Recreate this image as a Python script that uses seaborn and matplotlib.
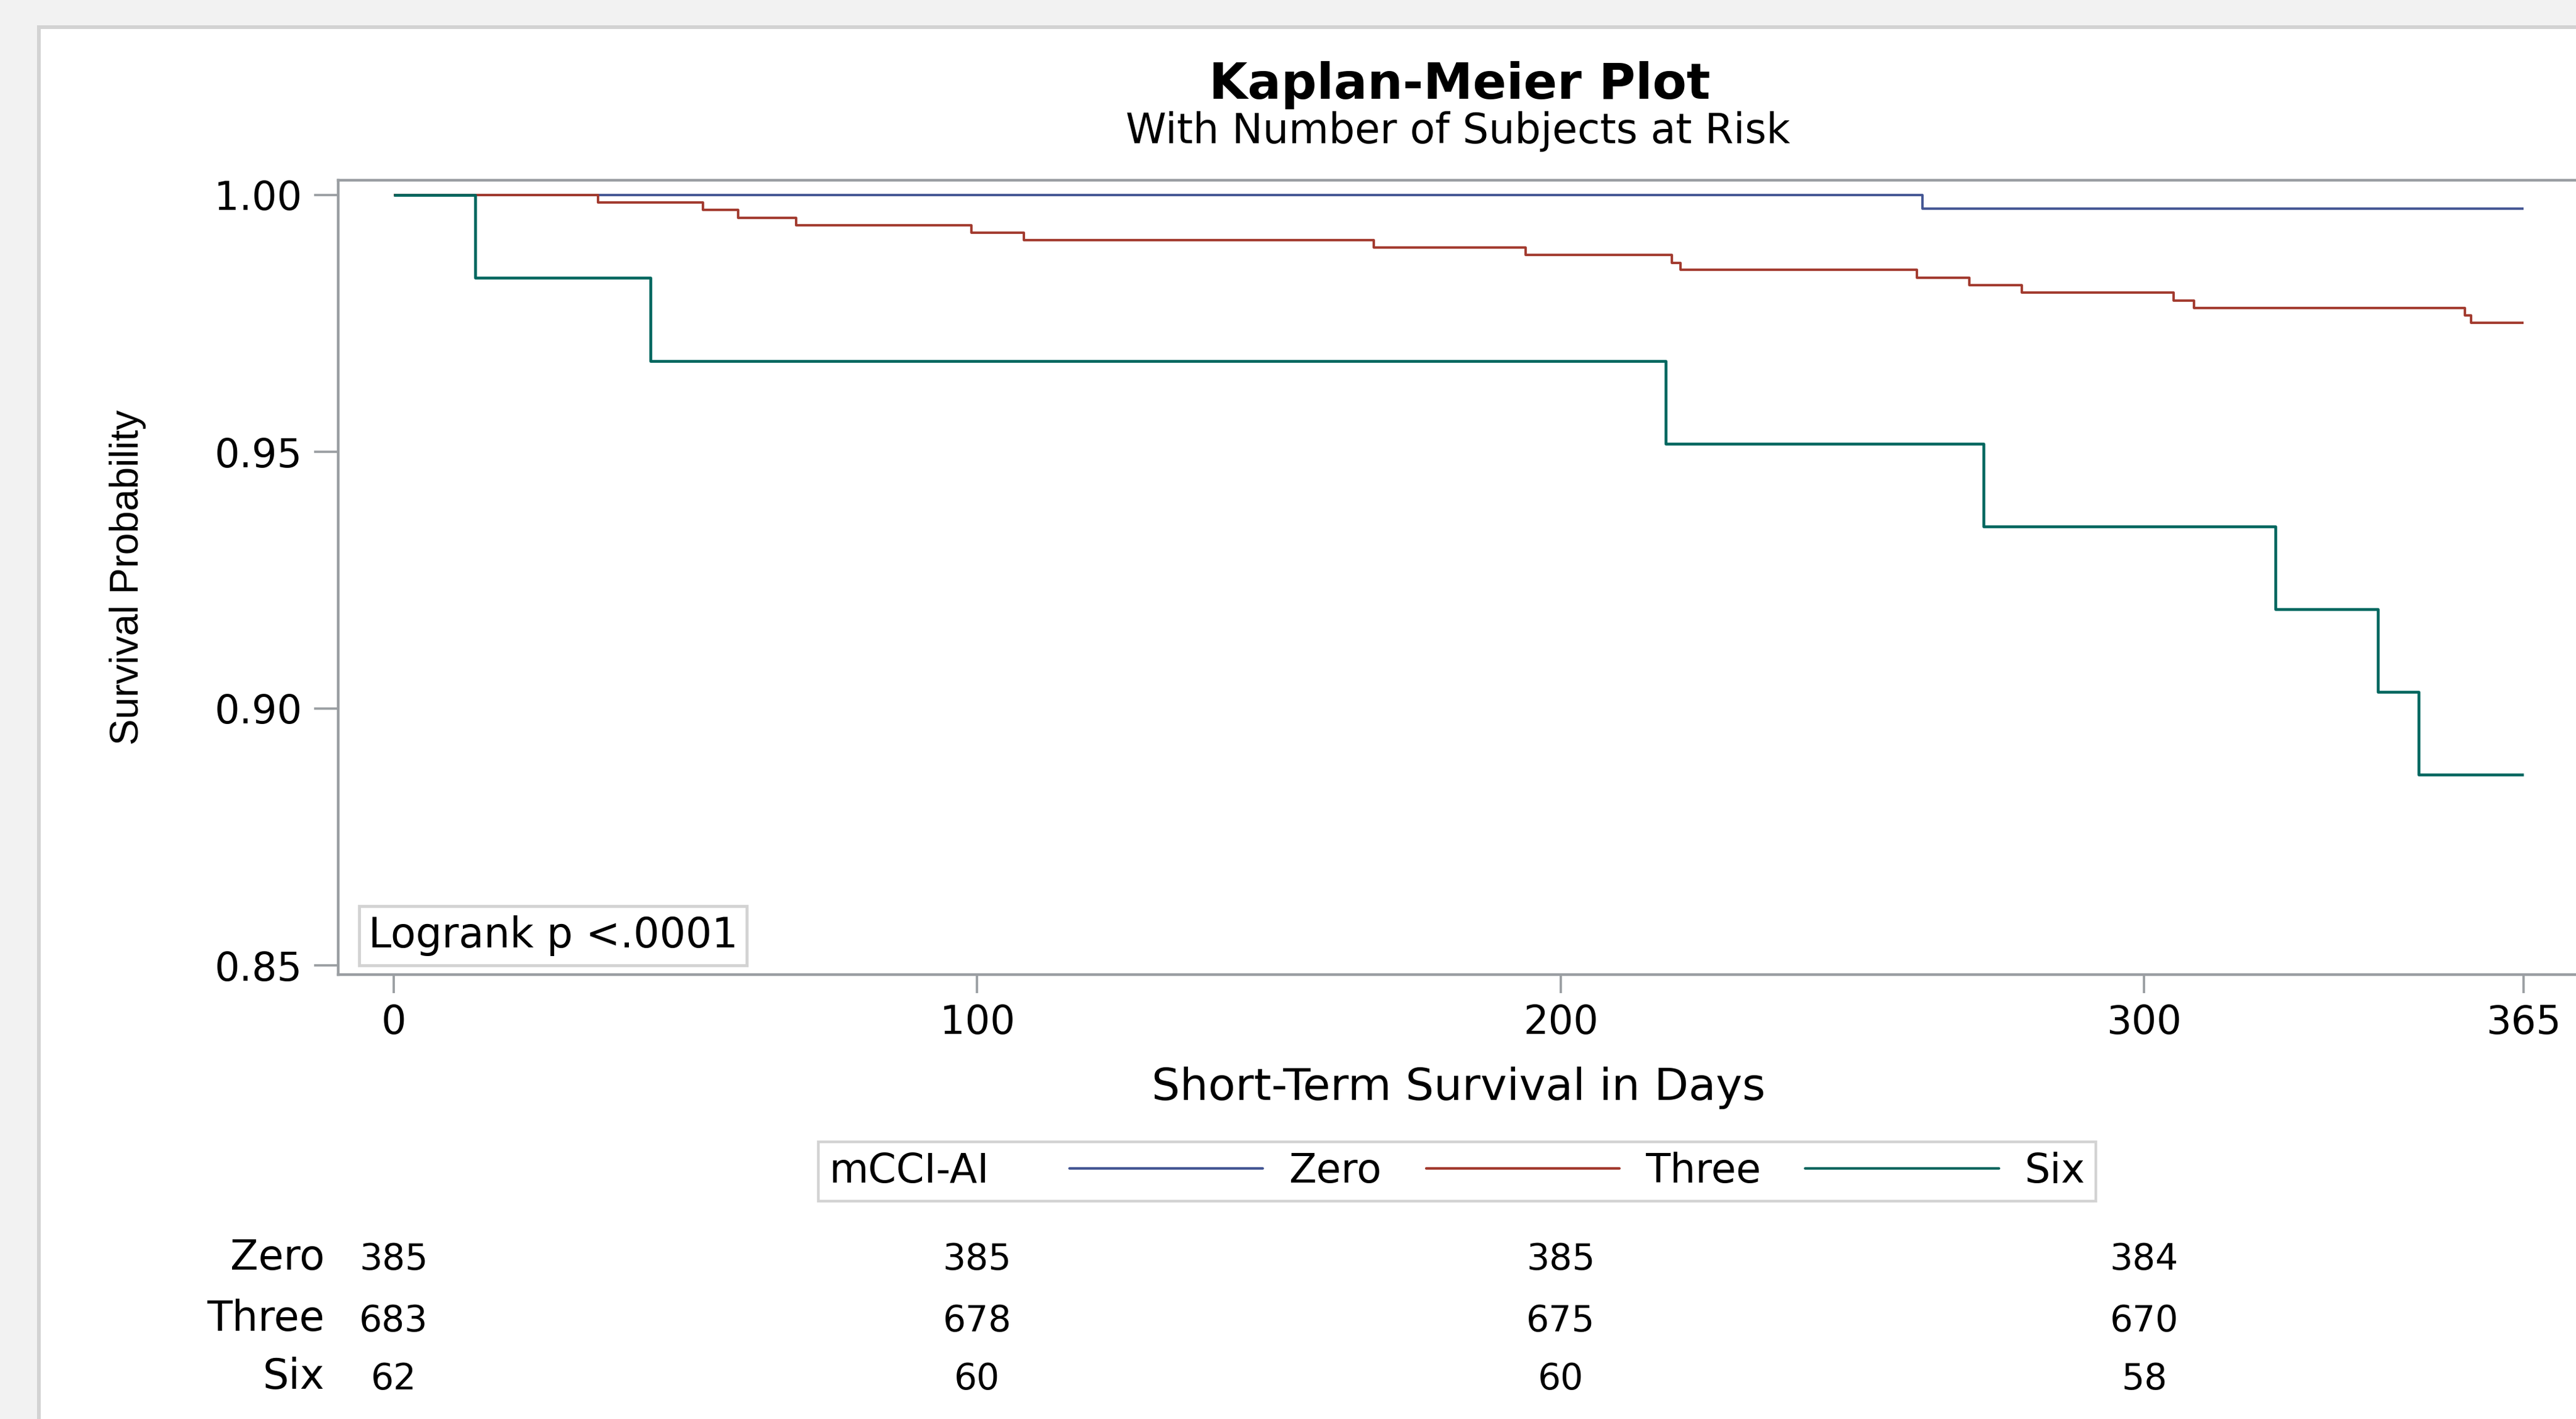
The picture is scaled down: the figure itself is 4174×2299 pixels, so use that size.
import pandas as pd
import matplotlib
matplotlib.use("Agg")
import matplotlib.pyplot as plt
import matplotlib.transforms as mtransforms
from matplotlib.lines import Line2D
from matplotlib.patches import Rectangle
from matplotlib.offsetbox import HPacker
import seaborn as sns

# groups and colours (SAS HTMLBlue style)
groups = ["Zero", "Three", "Six"]
colors = ["#445694", "#A23A2E", "#01665E"]

# Kaplan-Meier step points
zero_days = [0, 262, 365]
zero_surv = [1.0, 0.9974, 0.9974]

three_days = [0, 35, 53, 59, 69, 99, 108, 168, 194, 219, 220.5, 261, 270, 279,
              305, 308.5, 355, 356, 365]
three_surv = [1.0, 0.9985, 0.9971, 0.9956, 0.9941, 0.9927, 0.9912, 0.9898, 0.9883,
              0.9868, 0.9854, 0.9839, 0.9824, 0.9810, 0.9795, 0.9780, 0.9766,
              0.9751, 0.9751]

six_days = [0, 14, 44, 218, 272.5, 322.5, 340, 347, 365]
six_surv = [1.0, 0.9839, 0.9677, 0.9516, 0.9355, 0.9194, 0.9032, 0.8871, 0.8871]

# number at risk table
risk_days = [0, 100, 200, 300]
risk_zero = [385, 385, 385, 384]
risk_three = [683, 678, 675, 670]
risk_six = [62, 60, 60, 58]

x_ticks = [0, 100, 200, 300, 365]
y_ticks = [0.85, 0.90, 0.95, 1.00]

df = pd.concat([
    pd.DataFrame({"day": d, "surv": s, "group": g})
    for g, d, s in zip(groups, [zero_days, three_days, six_days],
                       [zero_surv, three_surv, six_surv])
], ignore_index=True)

sns.set_style("white")
plt.rcParams["font.family"] = ["DejaVu Sans"]
plt.rcParams["text.color"] = "black"
plt.rcParams["axes.labelcolor"] = "black"

W, H = 4174, 2299
def fx(px):
    return px / W
def fy(py):
    return 1 - py / H

fig = plt.figure(figsize=(W / 100, H / 100), dpi=100, facecolor="#F2F2F2")

# white panel with light gray border
panel = Rectangle((fx(63), -0.1), 1.2, fy(43.5) + 0.1, transform=fig.transFigure,
                  facecolor="white", edgecolor="#D3D3D3", lw=4.3, zorder=-5)
fig.patches.append(panel)

ax_left, ax_right, ax_top, ax_bottom = 548, 4178, 292, 1579
ax = fig.add_axes([fx(ax_left), fy(ax_bottom), (ax_right - ax_left) / W,
                   (ax_bottom - ax_top) / H])

sns.lineplot(data=df, x="day", y="surv", hue="group", hue_order=groups,
             palette=colors, estimator=None, drawstyle="steps-post",
             legend=False, sort=False, ax=ax)
for line, lw in zip(ax.lines, [2.8, 2.8, 3.3]):
    line.set_linewidth(lw)
    line.set_solid_capstyle("butt")

px_per_day = (4089 - 638) / 365
ax.set_xlim(-(638 - ax_left) / px_per_day, (ax_right - 638) / px_per_day)
ax.set_ylim(0.85 - 15 / 8320, 1.0 + 24 / 8320)

axis_gray = "#9A9EA2"
for side in ["left", "bottom", "top"]:
    ax.spines[side].set_color(axis_gray)
    ax.spines[side].set_linewidth(3.2)
ax.spines["right"].set_visible(False)

ax.set_xticks(x_ticks)
ax.set_yticks(y_ticks)
ax.set_yticklabels([f"{v:.2f}" for v in y_ticks])
ax.tick_params(axis="y", left=True, length=28, width=2.7, color=axis_gray, pad=14,
               labelsize=46, labelcolor="black")
ax.tick_params(axis="x", bottom=True, length=21.5, width=2.7, color=axis_gray, pad=12,
               labelsize=46, labelcolor="black")

ax.set_xlabel("Short-Term Survival in Days", fontsize=52, color="black")
ax.xaxis.set_label_coords(0.5, -(1728 - ax_bottom) / (ax_bottom - ax_top))
ax.set_ylabel("Survival Probability", fontsize=46, color="black",
              family=["Liberation Sans", "DejaVu Sans"])
ax.yaxis.set_label_coords((237 - ax_left) / (ax_right - ax_left), 0.5)

# titles
fig.text(fx(2365), fy(160), "Kaplan-Meier Plot", fontsize=58, fontweight="bold",
         ha="center", va="baseline")
fig.text(fx(2362), fy(232), "With Number of Subjects at Risk", fontsize=48,
         ha="center", va="baseline")

# logrank box
fig.text(fx(597), fy(1516), "Logrank p <.0001", fontsize=48, ha="left", va="center",
         bbox=dict(boxstyle="square,pad=0.22", fc="white", ec="#D3D3D3", lw=3.5))

# legend with the title placed to the left of the entries
handles = [Line2D([], [], color=c, lw=3.0) for c in colors]
leg = ax.legend(handles, groups, title="mCCI-AI", ncol=3, loc="center",
                bbox_to_anchor=(fx(2361), fy(1898)), bbox_transform=fig.transFigure,
                fontsize=47, title_fontsize=47, frameon=True, fancybox=False,
                framealpha=1, edgecolor="#D3D3D3", borderpad=0.25,
                handlelength=4.8, handletextpad=0.65, columnspacing=1.1)
leg.get_frame().set_linewidth(3.2)
vbox = leg._legend_box
title_box, handle_box = vbox.get_children()
row = HPacker(children=[title_box, handle_box], align="center", pad=0, sep=94)
vbox._children = [row]

# number at risk rows
trans = mtransforms.blended_transform_factory(ax.transData, fig.transFigure)
row_y = [2041, 2140, 2234]
for g, counts, yc in zip(groups, [risk_zero, risk_three, risk_six], row_y):
    fig.text(fx(526), fy(yc - 3), g, ha="right", va="center", fontsize=48)
    for d, n in zip(risk_days, counts):
        ax.text(d, fy(yc), str(n), transform=trans, ha="center", va="center",
                fontsize=42, clip_on=False)

fig.savefig("out.png", dpi=100, facecolor=fig.get_facecolor())
